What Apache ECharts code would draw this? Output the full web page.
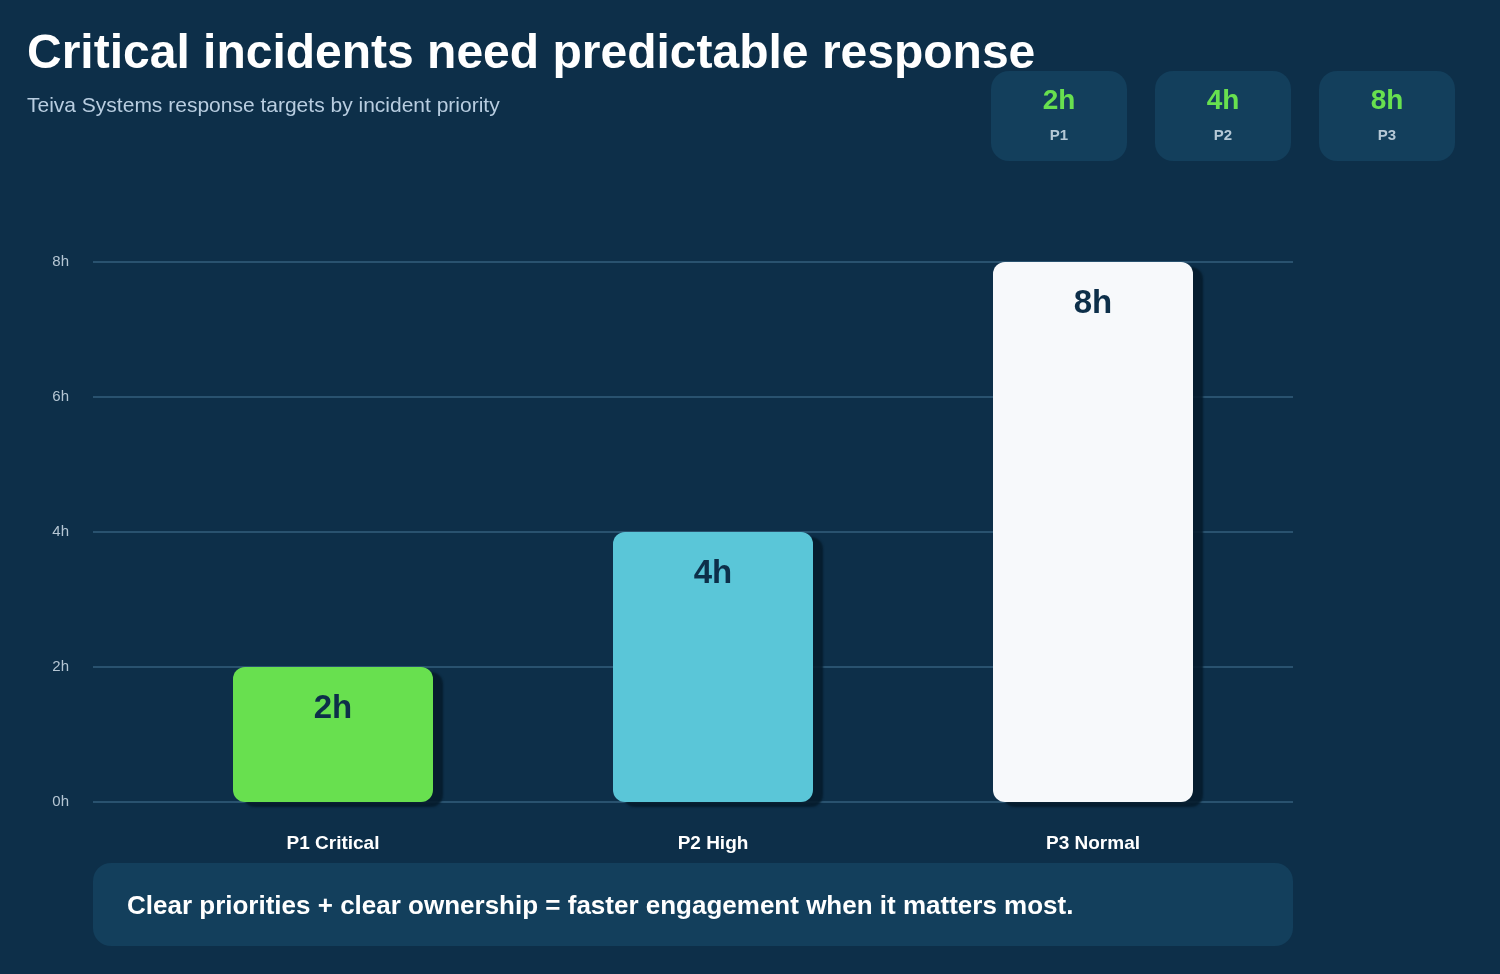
<!DOCTYPE html>
<html>
<head>
<meta charset="utf-8">
<script src="https://cdn.jsdelivr.net/npm/echarts@6/dist/echarts.min.js"></script>
<style>
  html, body { margin: 0; padding: 0; background: #0d2f49; }
  #main { width: 1500px; height: 974px; }
</style>
</head>
<body>
<div id="main"></div>
<script>
// data
var categories = ['P1 Critical', 'P2 High', 'P3 Normal'];
var hours = [2, 4, 8];
var barColors = ['#68e04f', '#5ac6d8', '#f7f9fb'];
var cardLabels = ['P1', 'P2', 'P3'];
var yTicks = [0, 2, 4, 6, 8];

var FONT = '"Liberation Sans", Arial, Helvetica, sans-serif';
var BG = '#0d2f49';
var PANEL = '#133f5c';

var myChart = echarts.init(document.getElementById('main'));

// top-right summary cards
var cards = [];
cardLabels.forEach(function (lab, i) {
    var x = 991 + i * 164;
    cards.push({
        type: 'rect',
        shape: { x: x, y: 71, width: 136, height: 90, r: 18 },
        style: { fill: PANEL }
    });
    cards.push({
        type: 'text',
        x: x + 68, y: 101,
        style: {
            text: hours[i] + 'h', fill: '#68e04f', font: 'bold 28px ' + FONT,
            align: 'center', verticalAlign: 'middle'
        }
    });
    cards.push({
        type: 'text',
        x: x + 68, y: 136,
        style: {
            text: lab, fill: '#b5c8d6', font: 'bold 15px ' + FONT,
            align: 'center', verticalAlign: 'middle'
        }
    });
});

var yMin = yTicks[0], yMax = yTicks[yTicks.length - 1];

option = {
    backgroundColor: BG,
    animation: false,
    // grid 0: full-width gridlines + y labels, grid 1: the bars
    grid: [
        { left: 93, right: 207, top: 262, bottom: 172 },
        { left: 143, right: 217, top: 262, bottom: 172 }
    ],
    xAxis: [
        {
            type: 'category', gridIndex: 0, data: categories, show: false
        },
        {
            type: 'category',
            gridIndex: 1,
            data: categories,
            axisLine: { show: false },
            axisTick: { show: false },
            axisLabel: {
                color: '#ffffff',
                fontFamily: FONT,
                fontWeight: 'bold',
                fontSize: 19,
                margin: 32
            }
        }
    ],
    yAxis: [
        {
            type: 'value',
            gridIndex: 0,
            min: yMin,
            max: yMax,
            interval: 2,
            axisLine: { show: false },
            axisTick: { show: false },
            axisLabel: {
                color: '#b5c6d3',
                fontFamily: FONT,
                fontSize: 15,
                margin: 24,
                padding: [3, 0, 0, 0],
                formatter: '{value}h'
            },
            splitLine: {
                lineStyle: { color: '#335f7d', width: 1.5 }
            }
        },
        {
            type: 'value', gridIndex: 1, min: yMin, max: yMax, interval: 2, show: false
        }
    ],
    series: [{
        type: 'bar',
        xAxisIndex: 1,
        yAxisIndex: 1,
        barWidth: 200,
        data: hours.map(function (v, i) {
            return { value: v, itemStyle: { color: barColors[i] } };
        }),
        itemStyle: {
            borderRadius: 12,
            shadowColor: 'rgba(5, 28, 44, 0.9)',
            shadowBlur: 2,
            shadowOffsetX: 10,
            shadowOffsetY: 5
        },
        label: {
            show: true,
            position: 'insideTop',
            distance: 25,
            formatter: '{c}h',
            color: '#0d2f49',
            fontFamily: FONT,
            fontWeight: 'bold',
            fontSize: 33
        }
    }],
    graphic: [
        {
            type: 'text',
            left: 27, top: 31,
            style: {
                text: 'Critical incidents need predictable response',
                fill: '#ffffff',
                font: 'bold 48px ' + FONT
            }
        },
        {
            type: 'text',
            left: 27, top: 96,
            style: {
                text: 'Teiva Systems response targets by incident priority',
                fill: '#b8cde0',
                font: '21px ' + FONT
            }
        },
        {
            type: 'group',
            children: cards
        },
        {
            type: 'rect',
            shape: { x: 93, y: 863, width: 1200, height: 83, r: 18 },
            style: { fill: PANEL }
        },
        {
            type: 'text',
            x: 127, y: 907,
            style: {
                text: 'Clear priorities + clear ownership = faster engagement when it matters most.',
                fill: '#ffffff',
                font: 'bold 26px ' + FONT,
                verticalAlign: 'middle'
            }
        }
    ]
};

myChart.setOption(option);
window.addEventListener("resize", function () {
    myChart.resize();
});
</script>
</body>
</html>
